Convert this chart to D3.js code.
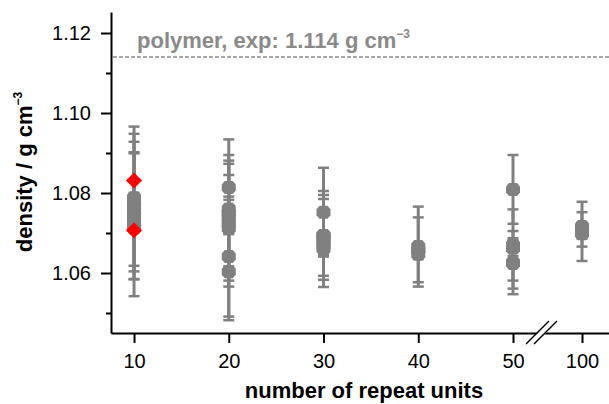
<!DOCTYPE html>
<html>
<head>
<meta charset="utf-8">
<script src="https://cdn.jsdelivr.net/npm/d3@7"></script>
<style>
  body { margin: 0; background: white; }
  #my_dataviz text { font-family: "Liberation Sans", Arial, Helvetica, sans-serif; }
</style>
</head>
<body>
<div id="my_dataviz"></div>
<script>
// x positions on the category axis
var xTicks = [10, 20, 30, 40, 50, 100];

// simulated densities, one entry per run (repeat units, density, error)
var simN =       [10, 10, 10, 10, 10, 10, 10, 10, 10, 10,
                  20, 20, 20, 20, 20, 20, 20, 20, 20, 20,
                  30, 30, 30, 30, 30, 30, 30, 30,
                  40, 40, 40, 40,
                  50, 50, 50, 50, 50,
                  100, 100, 100, 100];
var simDensity = [1.0754, 1.0766, 1.0766, 1.0760, 1.0742, 1.0788, 1.0778, 1.0740, 1.0725, 1.0712,
                  1.0814, 1.0641, 1.0603, 1.0750, 1.0738, 1.0760, 1.0749, 1.0720, 1.0712, 1.0730,
                  1.0752, 1.0694, 1.0694, 1.0675, 1.0660, 1.0680, 1.0668, 1.0688,
                  1.0666, 1.0658, 1.0647, 1.0655,
                  1.0809, 1.0626, 1.0670, 1.0624, 1.0662,
                  1.0704, 1.0709, 1.0716, 1.0698];
var simError =   [0.0212, 0.0182, 0.0162, 0.0142, 0.0157, 0.0012, 0.0015, 0.0020, 0.0018, 0.0010,
                  0.0031, 0.0150, 0.0121, 0.0184, 0.0157, 0.0113, 0.0132, 0.0020, 0.0015, 0.0025,
                  0.0111, 0.0111, 0.0101, 0.0110, 0.0015, 0.0020, 0.0012, 0.0015,
                  0.0100, 0.0081, 0.0012, 0.0010,
                  0.0086, 0.0079, 0.0089, 0.0063, 0.0020,
                  0.0074, 0.0043, 0.0010, 0.0012];

// red reference points
var altN = [10, 10];
var altDensity = [1.0831, 1.0707];

// experimental polymer density
var expDensity = 1.114;

var yMajor = [1.06, 1.08, 1.10, 1.12];
var yMinor = [1.05, 1.07, 1.09, 1.11];

var width = 609, height = 404;
var gray = "#808080";

var svg = d3.select("#my_dataviz")
  .append("svg")
  .attr("width", width)
  .attr("height", height);

// broken x scale: 10..50 linear, then 100 after the break
var x = d3.scaleLinear()
  .domain([7.57, 50, 100, 102.85])
  .range([111, 513, 582, 609]);

var y = d3.scaleLinear()
  .domain([1.045, 1.12525])
  .range([333, 12]);

// dashed experimental line
svg.append("line")
  .attr("x1", x(7.57) + 2)
  .attr("x2", width)
  .attr("y1", y(expDensity))
  .attr("y2", y(expDensity))
  .attr("stroke", "#8a8a8a")
  .attr("stroke-width", 1.5)
  .attr("stroke-dasharray", "4,2");

svg.append("text")
  .attr("x", 137)
  .attr("y", 48)
  .style("font-size", "22px")
  .style("font-weight", "bold")
  .style("fill", "#8a8a8a")
  .text("polymer, exp: " + expDensity + " g cm")
  .append("tspan")
  .attr("dy", -10)
  .style("font-size", "12px")
  .text("\u22123");

var sim = simN.map(function (n, i) {
  return { n: n, d: simDensity[i], e: simError[i] };
});

// error bars
var bars = svg.append("g")
  .attr("stroke", gray);

bars.selectAll("line.stem")
  .data(sim)
  .enter()
  .append("line")
  .attr("class", "stem")
  .attr("x1", function (d) { return x(d.n) })
  .attr("x2", function (d) { return x(d.n) })
  .attr("y1", function (d) { return y(d.d + d.e) })
  .attr("y2", function (d) { return y(d.d - d.e) })
  .attr("stroke-width", 3);

var caps = [];
sim.forEach(function (d) {
  caps.push({ n: d.n, v: d.d + d.e });
  caps.push({ n: d.n, v: d.d - d.e });
});

bars.selectAll("line.cap")
  .data(caps)
  .enter()
  .append("line")
  .attr("class", "cap")
  .attr("x1", function (d) { return x(d.n) - 5.5 })
  .attr("x2", function (d) { return x(d.n) + 5.5 })
  .attr("y1", function (d) { return y(d.v) })
  .attr("y2", function (d) { return y(d.v) })
  .attr("stroke-width", 2.5);

// octagon markers
var oct = "M-4,-6.5L4,-6.5L7,-3L7,3L4,6.5L-4,6.5L-7,3L-7,-3Z";
svg.append("g")
  .selectAll("path")
  .data(sim)
  .enter()
  .append("path")
  .attr("d", oct)
  .attr("transform", function (d) { return "translate(" + x(d.n) + "," + y(d.d) + ")" })
  .attr("fill", gray);

// red diamonds
svg.append("g")
  .selectAll("path")
  .data(altN)
  .enter()
  .append("path")
  .attr("d", "M0,-8L8,0L0,8L-8,0Z")
  .attr("transform", function (d, i) { return "translate(" + x(d) + "," + y(altDensity[i]) + ")" })
  .attr("fill", "red");

// y axis
var yAxis = svg.append("g")
  .attr("transform", "translate(111,0)")
  .call(d3.axisLeft(y)
    .tickValues(yMajor)
    .tickSize(10)
    .tickSizeOuter(0)
    .tickPadding(10)
    .tickFormat(d3.format(".2f")));

svg.append("g")
  .attr("transform", "translate(111,0)")
  .call(d3.axisLeft(y)
    .tickValues(yMinor)
    .tickSize(5)
    .tickFormat(""))
  .select(".domain").remove();

// x axis
var xAxis = svg.append("g")
  .attr("transform", "translate(0,333)")
  .call(d3.axisBottom(x)
    .tickValues(xTicks)
    .tickSize(10)
    .tickSizeOuter(0)
    .tickPadding(11)
    .tickFormat(d3.format("d")));

svg.selectAll(".domain, .tick line")
  .attr("stroke", "black")
  .attr("stroke-width", 2);

svg.selectAll(".tick text")
  .style("font-size", "20px")
  .style("fill", "black");

// axis break marks
svg.append("path")
  .attr("d", "M528,343L549,322L557,322L536,343Z")
  .attr("fill", "white");

svg.append("g")
  .selectAll("line")
  .data([0, 8])
  .enter()
  .append("line")
  .attr("x1", function (d) { return 526 + d })
  .attr("y1", 344)
  .attr("x2", function (d) { return 549 + d })
  .attr("y2", 321)
  .attr("stroke", "black")
  .attr("stroke-width", 1.5);

// axis titles
svg.append("text")
  .attr("x", 364)
  .attr("y", 398)
  .style("text-anchor", "middle")
  .style("font-size", "22px")
  .style("font-weight", "bold")
  .text("number of repeat units");

svg.append("text")
  .attr("transform", "translate(32,172) rotate(-90)")
  .style("text-anchor", "middle")
  .style("font-size", "22px")
  .style("font-weight", "bold")
  .text("density / g cm")
  .append("tspan")
  .attr("dy", -10)
  .style("font-size", "12px")
  .text("\u22123");
</script>
</body>
</html>
